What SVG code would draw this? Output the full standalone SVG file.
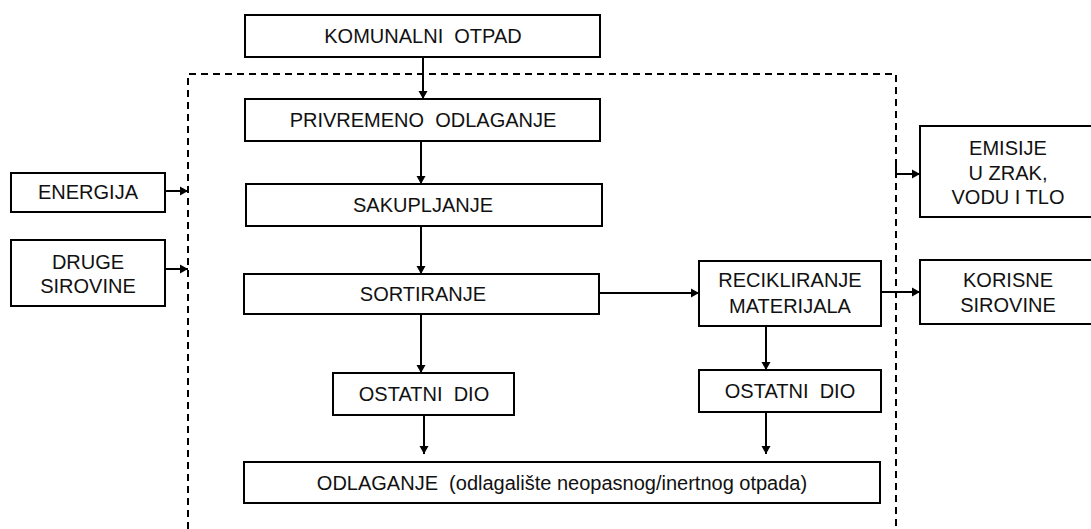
<svg xmlns="http://www.w3.org/2000/svg" width="1091" height="529" viewBox="0 0 1091 529">
<style>
.box{fill:#fff;stroke:#000;stroke-width:2}
.t{font-family:"Liberation Sans",Arial,sans-serif;font-size:20px;fill:#111;text-anchor:middle;white-space:pre}
.c{fill:none;stroke:#000;stroke-width:2}
.d{fill:none;stroke:#000;stroke-width:2;stroke-dasharray:7 5}
</style>
<defs>
<marker id="ah" markerUnits="userSpaceOnUse" markerWidth="10" markerHeight="10" refX="8" refY="5" orient="auto">
<path d="M0,0.5 L8,5 L0,9.5 z" fill="#000"/>
</marker>
</defs>
<rect width="1091" height="529" fill="#fff"/>
<g id="connectors">
<path class="d" d="M188,529 V74 H896 V529"/>
<path class="c" d="M423,57 V99" marker-end="url(#ah)"/>
<path class="c" d="M421,141 V184" marker-end="url(#ah)"/>
<path class="c" d="M421,226 V274" marker-end="url(#ah)"/>
<path class="c" d="M421,314 V373" marker-end="url(#ah)"/>
<path class="c" d="M424,415 V454" marker-end="url(#ah)"/>
<path class="c" d="M766,326 V370" marker-end="url(#ah)"/>
<path class="c" d="M766,412 V454" marker-end="url(#ah)"/>
<path class="c" d="M599,293 H699" marker-end="url(#ah)"/>
<path class="c" d="M881,292 H920" marker-end="url(#ah)"/>
<path class="c" d="M165,191 H188" marker-end="url(#ah)"/>
<path class="c" d="M166,269 H188" marker-end="url(#ah)"/>
<path class="c" d="M896,166 V174 H920" marker-end="url(#ah)"/>
</g>
<g id="komunalni">
<rect class="box" x="245" y="15" width="355" height="42"/>
<text class="t" x="423" y="43">KOMUNALNI  OTPAD</text>
</g>
<g id="privremeno">
<rect class="box" x="245" y="99" width="355" height="42"/>
<text class="t" x="423" y="127">PRIVREMENO  ODLAGANJE</text>
</g>
<g id="sakupljanje">
<rect class="box" x="246" y="184" width="356" height="42"/>
<text class="t" x="423" y="212">SAKUPLJANJE</text>
</g>
<g id="sortiranje">
<rect class="box" x="244" y="274" width="355" height="40"/>
<text class="t" x="423" y="301">SORTIRANJE</text>
</g>
<g id="recikliranje">
<rect class="box" x="699" y="261" width="182" height="65"/>
<text class="t" x="790" y="287">RECIKLIRANJE</text>
<text class="t" x="790" y="313">MATERIJALA</text>
</g>
<g id="ostatni1">
<rect class="box" x="333" y="373" width="181" height="42"/>
<text class="t" x="424" y="401">OSTATNI  DIO</text>
</g>
<g id="ostatni2">
<rect class="box" x="699" y="370" width="182" height="42"/>
<text class="t" x="790" y="398">OSTATNI  DIO</text>
</g>
<g id="odlaganje">
<rect class="box" x="244" y="462" width="636" height="41"/>
<text class="t" x="562" y="490">ODLAGANJE  (odlagalište neopasnog/inertnog otpada)</text>
</g>
<g id="energija">
<rect class="box" x="11" y="173" width="154" height="39"/>
<text class="t" x="88" y="199">ENERGIJA</text>
</g>
<g id="druge">
<rect class="box" x="11" y="240" width="154" height="66"/>
<text class="t" x="88" y="269">DRUGE</text>
<text class="t" x="88" y="293">SIROVINE</text>
</g>
<g id="emisije">
<rect class="box" x="920" y="126" width="176" height="91"/>
<text class="t" x="1008" y="155">EMISIJE</text>
<text class="t" x="1008" y="180">U ZRAK,</text>
<text class="t" x="1008" y="204">VODU I TLO</text>
</g>
<g id="korisne">
<rect class="box" x="920" y="260" width="176" height="64"/>
<text class="t" x="1008" y="287">KORISNE</text>
<text class="t" x="1008" y="312">SIROVINE</text>
</g>
</svg>
